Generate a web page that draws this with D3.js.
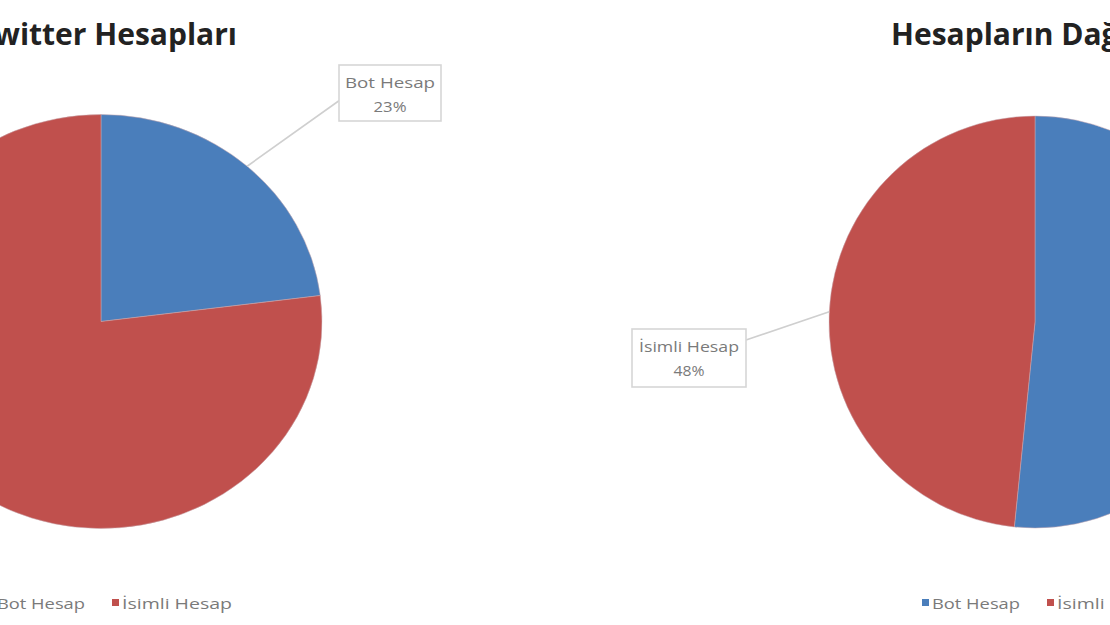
<!DOCTYPE html>
<html><head><meta charset="utf-8">
<script src="https://cdn.jsdelivr.net/npm/d3@7"></script>
<style>body{margin:0;background:#fff;overflow:hidden}</style>
</head><body>
<svg id="c" width="1110" height="625"></svg>
<script>
const categories = ["Bot Hesap", "İsimli Hesap"];
const leftValues = [23, 77];
const rightValues = [51.6, 48.4];
const titles = ["Twitter Hesapları", "Hesapların Dağılımı"];
const colors = ["#4a7ebb", "#c0504d"];

const svg = d3.select("#c");
const color = d3.scaleOrdinal().domain(categories).range(colors);
const pie = d3.pie().sort(null).value(d => d.v);
const legendWidths = {"Bot Hesap": 88, "İsimli Hesap": 110};

function drawPie(values, cx, cy, r, sx, labelIdx, box, title, legendX) {
  const data = pie(categories.map((c, i) => ({c, v: values[i]})));
  const g = svg.append("g").attr("transform", `translate(${cx},${cy}) scale(${sx},1)`);
  const arc = d3.arc().innerRadius(0).outerRadius(r);
  g.selectAll("path").data(data).join("path")
    .attr("d", arc).attr("fill", d => color(d.data.c))
    .attr("stroke", "#c9a9b0").attr("stroke-width", 0.5);
  // leader
  const d = data[labelIdx];
  const a = (d.startAngle + d.endAngle) / 2;
  const px = cx + r * sx * Math.sin(a), py = cy - r * Math.cos(a);
  svg.append("line").attr("x1", px).attr("y1", py).attr("x2", box.lx).attr("y2", box.ly)
    .attr("stroke", "#cfcfcf").attr("stroke-width", 1.6);
  svg.append("rect").attr("x", box.x).attr("y", box.y).attr("width", box.w).attr("height", box.h)
    .attr("fill", "#fff").attr("stroke", "#d6d6d6").attr("stroke-width", 1.6);
  const total = d3.sum(values);
  const t = svg.append("text").attr("text-anchor", "middle").attr("fill", "#7a7a7a")
    .attr("font-family", "'Open Sans', sans-serif").attr("font-size", 14);
  t.append("tspan").attr("x", box.x + box.w / 2).attr("y", box.y + 23)
    .attr("textLength", box.tw).attr("lengthAdjust", "spacingAndGlyphs").text(d.data.c);
  t.append("tspan").attr("x", box.x + box.w / 2).attr("y", box.y + 47)
    .attr("textLength", box.pw).attr("lengthAdjust", "spacingAndGlyphs")
    .text(Math.round(d.data.v / total * 100) + "%");
  // title
  svg.append("text").attr("x", title.x).attr("y", 45).attr("text-anchor", title.anchor)
    .attr("font-family", "'Open Sans', sans-serif").attr("font-weight", "bold")
    .attr("font-size", 30).attr("fill", "#222").text(title.text);
  // legend
  let lx = legendX;
  categories.forEach((c, i) => {
    svg.append("rect").attr("x", lx).attr("y", 599).attr("width", 7).attr("height", 7).attr("fill", color(c));
    svg.append("text").attr("x", lx + 10).attr("y", 609).attr("fill", "#7a7a7a")
      .attr("font-family", "'Open Sans', sans-serif").attr("font-size", 14)
      .attr("textLength", legendWidths[c]).attr("lengthAdjust", "spacingAndGlyphs").text(c);
    lx += 10 + legendWidths[c] + 27;
  });
}

drawPie(leftValues, 101, 321.5, 207, 221 / 207, 0,
  {x: 339, y: 65, w: 102, h: 56, lx: 340, ly: 100, tw: 90, pw: 33},
  {x: 237, anchor: "end", text: titles[0]}, -13);
drawPie(rightValues, 1035, 322, 206, 1, 1,
  {x: 632, y: 329, w: 114, h: 58, lx: 746, ly: 340, tw: 100, pw: 31},
  {x: 891, anchor: "start", text: titles[1]}, 922);
</script>
</body></html>
